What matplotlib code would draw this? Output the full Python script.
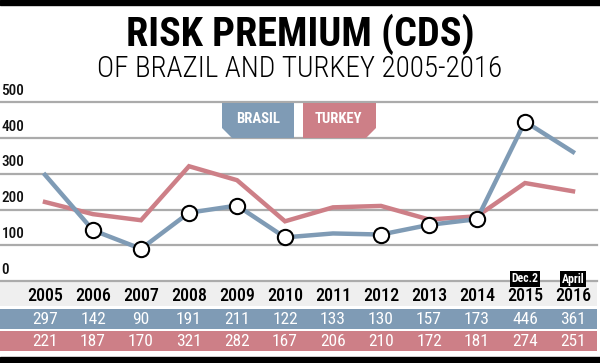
import matplotlib
matplotlib.use("Agg")
import matplotlib.pyplot as plt
from matplotlib.patches import Rectangle, Polygon

years = [2005, 2006, 2007, 2008, 2009, 2010, 2011, 2012, 2013, 2014, 2015, 2016]
brasil = [297, 142, 90, 191, 211, 122, 133, 130, 157, 173, 446, 361]
turkey = [221, 187, 170, 321, 282, 167, 206, 210, 172, 181, 274, 251]
circle_idx = [1, 2, 3, 4, 5, 7, 8, 9, 10]
y_ticks = [0, 100, 200, 300, 400, 500]
year_notes = {2015: "Dec.2", 2016: "April"}

BLUE = "#7f9bb5"
PINK = "#cd7f87"
GRID = "#ababab"
COND = ["Roboto Condensed", "DejaVu Sans"]

W, H = 600, 363
fig = plt.figure(figsize=(6, 3.63), dpi=100)

def fy(py):
    return 1 - py / H

# main chart axes, 0 at y=281px, 100 per 35.75px
y0_px, ytop_px = 281, 82
ymax = (y0_px - ytop_px) / 35.75 * 100
ax = fig.add_axes([0, fy(y0_px), 1, (y0_px - ytop_px) / H])
ax.set_xlim(2005 - 45 / 48, 2005 + 555 / 48)
ax.set_ylim(0, ymax)
ax.axis("off")

x_end = 2005 + 552 / 48
for t in y_ticks:
    if t > 0:
        ax.plot([ax.get_xlim()[0], x_end], [t, t], color=GRID, lw=1.6, zorder=1)
    ax.text(ax.get_xlim()[0] + 0.03, t + 12, str(t), ha="left", va="bottom",
            fontsize=11, family=COND, fontweight="medium", color="#111111")

ax.plot(years, turkey, color=PINK, lw=3.2, solid_joinstyle="miter", zorder=2)
ax.plot(years, brasil, color=BLUE, lw=3.2, solid_joinstyle="miter", zorder=3)
ax.plot([years[i] for i in circle_idx], [brasil[i] for i in circle_idx], "o",
        ms=11, mfc="white", mec="black", mew=1.5, zorder=4)

# overlay axes in pixel coords
ov = fig.add_axes([0, 0, 1, 1])
ov.set_xlim(0, W)
ov.set_ylim(H, 0)
ov.axis("off")

# top & bottom black bars
ov.add_patch(Rectangle((0, 0), W, 4.5, color="black"))
ov.add_patch(Rectangle((0, 357), W, 6, color="black"))

ov.text(300, 34, "RISK PREMIUM (CDS)", ha="center", va="center",
        fontsize=29, fontweight="bold", family=COND, color="black")
ov.text(300, 69, "OF BRAZIL AND TURKEY 2005-2016", ha="center", va="center",
        fontsize=21, fontweight="light", family=COND, color="black")

# legend tabs
ov.add_patch(Polygon([(222, 103), (294, 103), (294, 138), (232, 138), (222, 128)],
                     closed=True, color=BLUE, lw=0))
ov.text(258, 119, "BRASIL", ha="center", va="center", color="white",
        fontsize=10.5, fontweight="bold", family=COND)
ov.add_patch(Polygon([(303, 103), (376, 103), (376, 128), (366, 138), (303, 138)],
                     closed=True, color=PINK, lw=0))
ov.text(338, 119, "TURKEY", ha="center", va="center", color="white",
        fontsize=10.5, fontweight="bold", family=COND)

# table
ov.add_patch(Rectangle((0, 281), 597, 25, color="#efefef", lw=0))
ov.plot([0, 597], [281, 281], color=GRID, lw=1.6)
ov.add_patch(Rectangle((0, 309), 597, 20, color=BLUE, lw=0))
ov.add_patch(Rectangle((0, 331), 597, 20, color=PINK, lw=0))

for i, yr in enumerate(years):
    xp = 45 + 48 * i
    ov.text(xp, 296, str(yr), ha="center", va="center", fontsize=13,
            fontweight="medium", family=COND, color="black")
    ov.text(xp, 319.5, str(brasil[i]), ha="center", va="center", fontsize=12.5,
            family=COND, color="white")
    ov.text(xp, 341, str(turkey[i]), ha="center", va="center", fontsize=12.5,
            family=COND, color="white")
    if yr in year_notes:
        ov.text(xp, 279, year_notes[yr], ha="center", va="center", fontsize=8.5,
                fontweight="bold", family=COND, color="white",
                bbox=dict(boxstyle="square,pad=0.12", fc="black", ec="none"))

fig.savefig("out.png", dpi=100)
